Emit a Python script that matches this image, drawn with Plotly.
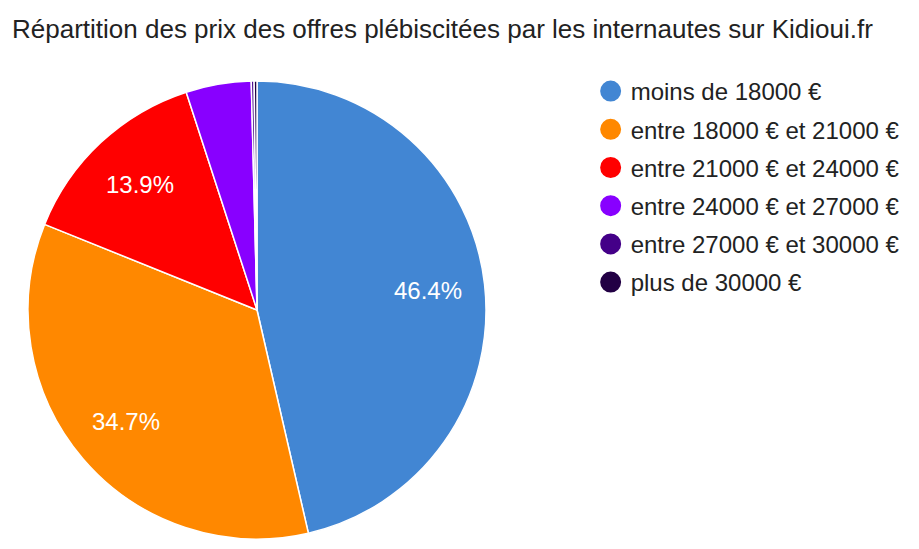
import math
import plotly.graph_objects as go

labels = ["moins de 18000 €", "entre 18000 € et 21000 €", "entre 21000 € et 24000 €",
          "entre 24000 € et 27000 €", "entre 27000 € et 30000 €", "plus de 30000 €"]
values = [46.4, 34.7, 13.9, 4.6, 0.2, 0.2]
colors = ["#4286d3", "#ff8800", "#ff0000", "#8800ff", "#440088", "#220044"]

font = "Liberation Sans, Arial, sans-serif"
W, H = 919, 549

# pie placement (plot-area pixels)
cx, cy, R = 249, 302, 229
dom_x = [(cx - R) / W, (cx + R) / W]
dom_y = [(H - cy - R) / H, (H - cy + R) / H]

fig = go.Figure()
fig.add_trace(go.Pie(labels=labels, values=values, sort=False, direction="clockwise",
                     rotation=0, marker=dict(colors=colors, line=dict(color="white", width=1.5)),
                     textinfo="none", showlegend=False,
                     domain=dict(x=dom_x, y=dom_y)))

# percentage labels, google-charts style (placed at 0.75 R on slice bisector)
total = sum(values)
start = 0.0
for v in values:
    frac = v / total
    mid = (start + frac / 2) * 2 * math.pi
    start += frac
    if frac < 0.10:
        continue
    px = cx + 0.75 * R * math.sin(mid)
    py = cy - 0.75 * R * math.cos(mid)
    fig.add_annotation(x=px / W, y=1 - py / H, xref="paper", yref="paper",
                       xanchor="center", yanchor="middle",
                       text="%.1f%%" % (frac * 100), showarrow=False,
                       font=dict(color="white", size=24, family=font))

# circle markers for the legend
for i, (lab, col) in enumerate(zip(labels, colors)):
    fig.add_trace(go.Scatter(x=[None], y=[None], mode="markers", name=lab,
                             legendgroup=str(i),
                             marker=dict(color=col, size=22, symbol="circle",
                                         line=dict(color=col, width=6))))

fig.update_layout(
    width=W, height=H,
    paper_bgcolor="white", plot_bgcolor="white",
    margin=dict(l=0, r=0, t=0, b=0),
    title=dict(text="Répartition des prix des offres plébiscitées par les internautes sur Kidioui.fr",
               x=4 / W, xanchor="left", y=1 - 21 / H, yanchor="middle",
               font=dict(family=font, size=26, color="#222222")),
    xaxis=dict(visible=False), yaxis=dict(visible=False),
    legend=dict(x=0.634, y=1 - 61 / H, xanchor="left", yanchor="top",
                font=dict(family=font, size=24, color="#222222"),
                tracegroupgap=4, itemwidth=30),
)

fig.write_html("out.html")
